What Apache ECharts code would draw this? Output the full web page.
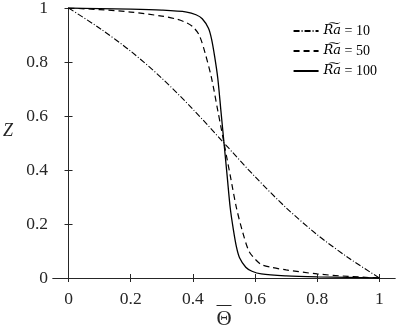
<!DOCTYPE html>
<html>
<head>
<meta charset="utf-8">
<script src="https://cdn.jsdelivr.net/npm/echarts@6/dist/echarts.min.js"></script>
<style>
html, body { margin: 0; padding: 0; background: #fff; }
#chart { width: 398px; height: 327px; }
</style>
</head>
<body>
<div id="chart"></div>
<script>
// 刻度
var tickValues = [0, 0.2, 0.4, 0.6, 0.8, 1];

// Ra = 10 (点划线)
var theta10 = [0, 0.1, 0.2, 0.3, 0.4, 0.5, 0.6, 0.7, 0.8, 0.9, 1];
var z10 = [1, 0.925, 0.84, 0.74, 0.625, 0.5, 0.375, 0.26, 0.16, 0.075, 0];

// Ra = 50 (虚线)
var theta50 = [0, 0.1, 0.2, 0.3, 0.35, 0.38, 0.4, 0.42, 0.44, 0.46, 0.48, 0.49, 0.5,
               0.51, 0.52, 0.54, 0.56, 0.58, 0.6, 0.62, 0.65, 0.7, 0.8, 0.9, 1];
var z50 = [1, 0.994, 0.985, 0.97, 0.958, 0.945, 0.93, 0.9, 0.83, 0.74, 0.62, 0.56, 0.5,
           0.44, 0.38, 0.26, 0.17, 0.1, 0.07, 0.05, 0.04, 0.03, 0.015, 0.006, 0];

// Ra = 100 (实线)
var theta100 = [0, 0.1, 0.2, 0.3, 0.38, 0.41, 0.43, 0.45, 0.46, 0.47, 0.48, 0.49, 0.5,
                0.51, 0.52, 0.53, 0.54, 0.55, 0.57, 0.59, 0.62, 0.7, 0.8, 0.9, 1];
var z100 = [1, 0.998, 0.996, 0.992, 0.985, 0.975, 0.96, 0.925, 0.885, 0.82, 0.74, 0.62, 0.5,
            0.38, 0.26, 0.18, 0.115, 0.075, 0.04, 0.025, 0.015, 0.008, 0.004, 0.002, 0];

var raValues = ['10', '50', '100'];
var legendNames = ['Ra10', 'Ra50', 'Ra100'];

function pairs(xs, ys) {
    var out = [];
    for (var i = 0; i < xs.length; i++) {
        out.push([xs[i], ys[i]]);
    }
    return out;
}

var axisColor = '#262626';
var serif = 'Liberation Serif';

function tickLabel(v) {
    return String(Math.round(v * 10) / 10);
}

var myChart = echarts.init(document.getElementById('chart'));
var option = {
    backgroundColor: '#fff',
    animation: false,
    grid: { left: 53, right: 3, top: 8, bottom: 49, containLabel: false, outerBoundsMode: 'none' },
    legend: {
        right: 21,
        top: 24,
        padding: 0,
        orient: 'vertical',
        itemWidth: 25,
        itemHeight: 12,
        itemGap: 6,
        itemStyle: { opacity: 0 },
        formatter: function (name) {
            var i = legendNames.indexOf(name);
            return '{r|R͠a} = ' + raValues[i];
        },
        textStyle: {
            fontFamily: serif, fontSize: 14, color: '#000',
            rich: {
                r: { fontFamily: 'DejaVu Serif', fontStyle: 'italic', fontSize: 13, color: '#000' }
            }
        },
        data: legendNames
    },
    xAxis: [
        {
            type: 'value', min: -0.05, max: 1.05,
            name: '{bar| }\n{t|Θ}', nameLocation: 'middle', nameGap: 25, nameMoveOverlap: false,
            nameTextStyle: {
                fontFamily: serif, fontSize: 21, color: axisColor,
                rich: {
                    bar: { width: 15, height: 1, lineHeight: 5, backgroundColor: axisColor, fontSize: 4 },
                    t: { fontFamily: serif, fontSize: 21, lineHeight: 22, color: axisColor }
                }
            },
            axisLine: { lineStyle: { color: axisColor, width: 1 } },
            axisTick: { inside: true, length: 4, customValues: tickValues, lineStyle: { color: axisColor } },
            axisLabel: { customValues: tickValues, formatter: tickLabel, margin: 12,
                         fontFamily: serif, fontSize: 17.5, color: axisColor },
            splitLine: { show: false }
        },
        {
            type: 'value', min: -0.05, max: 1.05, position: 'top',
            axisLine: { lineStyle: { color: axisColor, width: 1 } },
            axisTick: { inside: true, length: 4, customValues: tickValues, lineStyle: { color: axisColor } },
            axisLabel: { show: false },
            splitLine: { show: false }
        }
    ],
    yAxis: [
        {
            type: 'value', min: 0, max: 1, interval: 0.2,
            name: 'Z', nameLocation: 'middle', nameGap: 40, nameRotate: 0, nameMoveOverlap: false,
            nameTextStyle: { fontFamily: serif, fontSize: 18, fontStyle: 'italic', color: axisColor,
                             verticalAlign: 'bottom', padding: [0, 0, 3, 0] },
            axisLine: { show: true, lineStyle: { color: axisColor, width: 1 } },
            axisTick: { show: true, inside: true, length: 4, lineStyle: { color: axisColor } },
            axisLabel: { formatter: tickLabel, margin: 5, fontFamily: serif, fontSize: 17.5, color: axisColor },
            splitLine: { show: false }
        },
        {
            type: 'value', min: 0, max: 1, interval: 0.2, position: 'right',
            axisLine: { show: true, lineStyle: { color: axisColor, width: 1 } },
            axisTick: { show: true, inside: true, length: 4, lineStyle: { color: axisColor } },
            axisLabel: { show: false },
            splitLine: { show: false }
        }
    ],
    series: [
        {
            name: legendNames[0], type: 'line', symbol: 'none', smooth: 0.3,
            lineStyle: { color: '#000', width: 1.1, type: [6, 2, 1, 2] },
            itemStyle: { color: '#000' },
            data: pairs(theta10, z10)
        },
        {
            name: legendNames[1], type: 'line', symbol: 'none', smooth: 0.3,
            lineStyle: { color: '#000', width: 1.2, type: [6, 4] },
            itemStyle: { color: '#000' },
            data: pairs(theta50, z50)
        },
        {
            name: legendNames[2], type: 'line', symbol: 'none', smooth: 0.3,
            lineStyle: { color: '#000', width: 1.3 },
            itemStyle: { color: '#000' },
            data: pairs(theta100, z100)
        }
    ]
};
myChart.setOption(option);
</script>
</body>
</html>
